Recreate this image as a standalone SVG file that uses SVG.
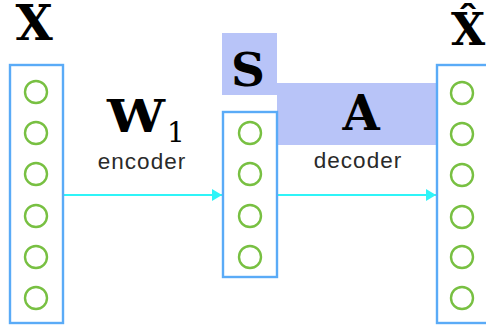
<svg xmlns="http://www.w3.org/2000/svg" width="486" height="332" viewBox="0 0 486 332">
<defs>
<style>
.box{fill:#ffffff;stroke:#5aabf7;stroke-width:2.4}
.unit{fill:none;stroke:#78c042;stroke-width:2.4}
.hl{fill:#b8c4f8}
.sym{font-family:"DejaVu Serif","Liberation Serif",serif;font-weight:bold;fill:#000;text-anchor:middle}
.sub{font-family:"DejaVu Serif","Liberation Serif",serif;font-weight:normal;fill:#000}
.lbl{font-family:"Liberation Sans","DejaVu Sans",sans-serif;font-size:22.5px;letter-spacing:1px;fill:#2a2a2a;text-anchor:middle}
.conn{stroke:#2ff4f8;stroke-width:2.2;fill:none}
</style>
<marker id="ah" markerWidth="10" markerHeight="12" refX="10" refY="6" orient="auto" markerUnits="userSpaceOnUse">
<path d="M0,0 L10,6 L0,12 Z" fill="#2ff4f8"/>
</marker>
</defs>
<rect class="hl" x="222" y="33" width="55" height="62"/>
<rect class="hl" x="277" y="83" width="160" height="62"/>
<g id="connectors">
<line class="conn" x1="64" y1="195" x2="222" y2="195" marker-end="url(#ah)"/>
<line class="conn" x1="278" y1="195" x2="436" y2="195" marker-end="url(#ah)"/>
</g>
<g id="input">
<rect class="box" x="10" y="65" width="53" height="258"/>
<circle class="unit" cx="36" cy="92" r="11"/>
<circle class="unit" cx="36" cy="133" r="11"/>
<circle class="unit" cx="36" cy="174" r="11"/>
<circle class="unit" cx="36" cy="216" r="11"/>
<circle class="unit" cx="36" cy="257" r="11"/>
<circle class="unit" cx="36" cy="298" r="11"/>
<text class="sym" x="34" y="40" font-size="48">X</text>
</g>
<g id="hidden">
<rect class="box" x="223" y="112" width="54" height="165"/>
<circle class="unit" cx="250" cy="133" r="11"/>
<circle class="unit" cx="250" cy="174" r="11"/>
<circle class="unit" cx="250" cy="216" r="11"/>
<circle class="unit" cx="250" cy="257" r="11"/>
<text class="sym" x="248" y="86" font-size="47">S</text>
</g>
<g id="output">
<rect class="box" x="437" y="65" width="54" height="258"/>
<circle class="unit" cx="462" cy="93" r="11"/>
<circle class="unit" cx="462" cy="134" r="11"/>
<circle class="unit" cx="462" cy="175" r="11"/>
<circle class="unit" cx="462" cy="217" r="11"/>
<circle class="unit" cx="462" cy="257" r="11"/>
<circle class="unit" cx="462" cy="298" r="11"/>
<text class="sym" x="468" y="45" font-size="44">X̂</text>
</g>
<g id="encoder">
<text class="sym" x="136" y="132" font-size="44" textLength="58" lengthAdjust="spacingAndGlyphs">W</text>
<text class="sub" x="167" y="142" font-size="28">1</text>
<text class="lbl" x="142" y="169">encoder</text>
</g>
<g id="decoder">
<text class="sym" x="361" y="130" font-size="48">A</text>
<text class="lbl" x="358" y="168">decoder</text>
</g>
</svg>
